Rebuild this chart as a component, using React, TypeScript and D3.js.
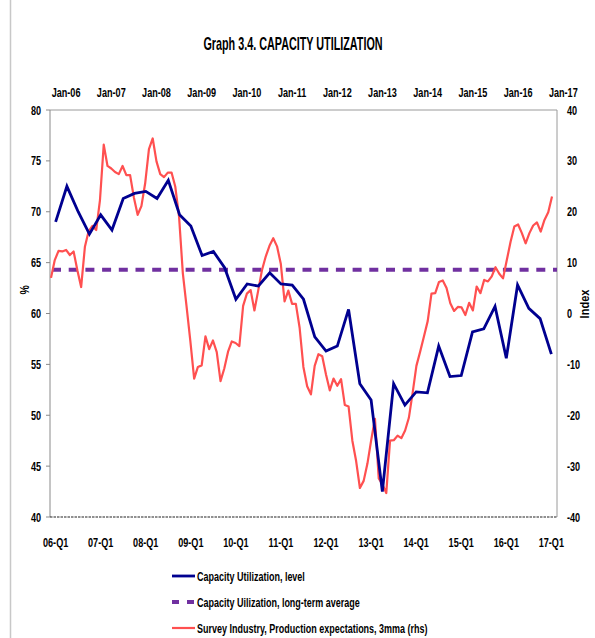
import React from "react";
import * as d3 from "d3";

const W = 595;
const H = 638;

// Quarterly categories 06-Q1 .. 17-Q1
const quarters: string[] = d3
  .range(2006, 2018)
  .flatMap((y) => [1, 2, 3, 4].map((q) => `${String(y % 100).padStart(2, "0")}-Q${q}`))
  .slice(0, 45);

// Monthly categories Sep-05 .. Jan-17 (secondary axis)
const months: string[] = d3
  .timeMonth.range(new Date(2005, 8, 1), new Date(2017, 1, 1))
  .map((d) => d3.timeFormat("%b-%y")(d));

const bottomTickLabels = ["06-Q1", "07-Q1", "08-Q1", "09-Q1", "10-Q1", "11-Q1", "12-Q1", "13-Q1", "14-Q1", "15-Q1", "16-Q1", "17-Q1"];
const topTickLabels = ["Jan-06", "Jan-07", "Jan-08", "Jan-09", "Jan-10", "Jan-11", "Jan-12", "Jan-13", "Jan-14", "Jan-15", "Jan-16", "Jan-17"];
const leftTicks = [40, 45, 50, 55, 60, 65, 70, 75, 80];
const rightTicks = [-40, -30, -20, -10, 0, 10, 20, 30, 40];

// Capacity utilization, level (%), quarterly
const capacityLevel = [
  69.0, 72.5, 70.0, 67.8, 69.7, 68.2, 71.3, 71.8, 72.0, 71.3, 73.1, 69.7,
  68.6, 65.7, 66.1, 64.5, 61.4, 62.9, 62.7, 64.0, 62.9, 62.8, 61.4, 57.7,
  56.3, 56.8, 60.4, 53.1, 51.5, 42.5, 53.1, 51.0, 52.3, 52.2, 56.8, 53.8,
  53.9, 58.2, 58.5, 60.7, 55.6, 62.8, 60.5, 59.5, 56.0,
];

// Long-term average (%)
const longTermAverage = 64.3;

// Survey Industry, production expectations, 3mma (index, rhs), monthly from Sep-05
const productionExpectations = [
  7.0, 10.5, 12.3, 12.2, 12.5, 11.5, 12.2, 8.5, 5.2, 13.1, 16.2, 17.2,
  16.4, 22.3, 33.2, 29.0, 28.5, 27.8, 27.4, 29.0, 27.2, 27.2, 22.8, 19.4,
  21.1, 25.6, 32.3, 34.4, 29.9, 27.4, 26.8, 27.7, 27.7, 24.9, 19.0, 7.9,
  1.3, -5.5, -12.8, -10.5, -10.2, -4.5, -7.0, -5.3, -7.6, -13.3, -10.8, -7.5,
  -5.5, -5.8, -6.4, 1.5, 3.9, 4.6, 0.6, 4.5, 8.5, 11.2, 13.3, 14.8,
  13.2, 9.8, 2.4, 4.5, 1.9, 1.9, -2.8, -10.5, -14.3, -15.9, -10.3, -8.0,
  -8.4, -12.0, -15.1, -12.8, -14.2, -12.9, -18.0, -18.3, -25.0, -29.0, -34.3, -32.9,
  -29.5, -24.9, -20.7, -32.4, -33.6, -35.3, -25.0, -24.9, -24.0, -24.5, -23.0, -20.5,
  -15.6, -10.3, -7.5, -4.5, -1.5, 3.9, 4.0, 6.2, 6.5, 5.0, 2.0, 0.5,
  1.3, 1.2, -0.3, 2.1, 0.6, 5.3, 4.0, 6.6, 6.3, 7.3, 9.1, 7.8,
  6.9, 10.5, 14.1, 17.1, 17.5, 15.8, 13.8, 15.8, 17.3, 17.9, 16.1, 18.4,
  19.9, 23.0,
];

const legendItems = [
  "Capacity Utilization, level",
  "Capacity Uilization, long-term average",
  "Survey Industry, Production expectations, 3mma (rhs)",
];

const BLUE = "#000090";
const PURPLE = "#7030A0";
const RED = "#FF5050";
const FONT = "'Liberation Sans', Arial, sans-serif";

const plot = { left: 50, right: 557, top: 110, bottom: 517 };

type TProps = {
  x: number;
  y: number;
  children: React.ReactNode;
  anchor?: "start" | "middle" | "end";
  size?: number;
  weight?: string | number;
  sx?: number;
  rotate?: number;
  fill?: string;
};

function T({ x, y, children, anchor = "middle", size = 13, weight = "bold", sx = 0.7, rotate = 0, fill = "#000" }: TProps) {
  return (
    <text
      transform={`translate(${x},${y}) rotate(${rotate}) scale(${sx},1)`}
      textAnchor={anchor}
      fontFamily={FONT}
      fontSize={size}
      fontWeight={weight}
      fill={fill}
    >
      {children}
    </text>
  );
}

export default function App() {
  const xQ = d3.scaleBand<string>().domain(quarters).range([plot.left, plot.right]).padding(0);
  const xQc = (q: string) => (xQ(q) as number) + xQ.bandwidth() / 2;
  const xM = d3.scalePoint<string>().domain(months).range([51, 51 + 3.767 * (months.length - 1)]);
  const yL = d3.scaleLinear().domain([40, 80]).range([plot.bottom, plot.top]);
  const yR = d3.scaleLinear().domain([-40, 40]).range([plot.bottom, plot.top]);

  const blueLine = d3
    .line<number>()
    .x((_, i) => xQc(quarters[i]))
    .y((d) => yL(d))(capacityLevel) as string;

  const redLine = d3
    .line<number>()
    .x((_, i) => xM(months[i]) as number)
    .y((d) => yR(d))(productionExpectations) as string;

  const legendX0 = 172;
  const legendX1 = 195;
  const legendY = d3.scalePoint<string>().domain(legendItems).range([576, 628]);

  return (
    <svg
      width={W}
      height={H}
      viewBox={`0 0 ${W} ${H}`}
      style={{ position: "absolute", left: 0, top: 0, background: "#fff" }}
    >
      <rect x={0} y={0} width={W} height={H} fill="#fff" />
      <line x1={10.5} x2={10.5} y1={0} y2={H} stroke="#c8c8c8" strokeWidth={1.5} />

      <T x={293} y={50} size={18} sx={0.6}>
        Graph 3.4. CAPACITY UTILIZATION
      </T>

      {/* plot frame */}
      <line x1={plot.left} x2={plot.right} y1={plot.top} y2={plot.top} stroke="#9a9a9a" strokeWidth={1} />
      <line x1={plot.right} x2={plot.right} y1={plot.top} y2={plot.bottom} stroke="#9a9a9a" strokeWidth={1} />
      <line x1={plot.left} x2={plot.left} y1={plot.top} y2={plot.bottom} stroke="#8a8a8a" strokeWidth={1} />

      {/* left axis ticks */}
      {leftTicks.map((t) => (
        <g key={`l${t}`}>
          <line x1={46} x2={plot.left} y1={yL(t)} y2={yL(t)} stroke="#8a8a8a" />
          <T x={41} y={yL(t) + 4.5} anchor="end">
            {t}
          </T>
        </g>
      ))}
      {/* right axis labels */}
      {rightTicks.map((t) => (
        <T key={`r${t}`} x={567} y={yR(t) + 4.5} anchor="start">
          {t}
        </T>
      ))}

      {/* top axis labels */}
      {topTickLabels.map((lab) => {
        const m = "Jan-" + lab.slice(4);
        return (
          <T key={lab} x={xM(m) as number} y={96.5}>
            {lab}
          </T>
        );
      })}

      {/* bottom axis labels */}
      {bottomTickLabels.map((lab) => (
        <T key={lab} x={xQc(lab)} y={547}>
          {lab}
        </T>
      ))}

      <T x={29} y={290} rotate={-90} size={13} sx={0.8}>
        %
      </T>
      <T x={589} y={304} rotate={-90} size={13} sx={0.85}>
        Index
      </T>

      {/* long-term average */}
      <line
        x1={plot.left + 2}
        x2={plot.right}
        y1={yL(longTermAverage)}
        y2={yL(longTermAverage)}
        stroke={PURPLE}
        strokeWidth={4}
        strokeDasharray="9,7.7"
      />

      {/* survey line */}
      <path d={redLine} fill="none" stroke={RED} strokeWidth={2.2} strokeLinejoin="round" />
      {/* capacity level line */}
      <path d={blueLine} fill="none" stroke={BLUE} strokeWidth={2.8} strokeLinejoin="miter" />

      {/* bottom axis line */}
      <line
        x1={plot.left}
        x2={plot.right}
        y1={plot.bottom}
        y2={plot.bottom}
        stroke="#222"
        strokeWidth={1.2}
        strokeDasharray="2.5,1"
      />

      {/* legend */}
      <line x1={legendX0} x2={legendX1} y1={legendY(legendItems[0])} y2={legendY(legendItems[0])} stroke={BLUE} strokeWidth={2.8} />
      <line
        x1={legendX0}
        x2={legendX1}
        y1={legendY(legendItems[1])}
        y2={legendY(legendItems[1])}
        stroke={PURPLE}
        strokeWidth={4}
        strokeDasharray="7,8"
      />
      <line x1={legendX0} x2={legendX1} y1={legendY(legendItems[2])} y2={legendY(legendItems[2])} stroke={RED} strokeWidth={2.2} />
      {legendItems.map((lab) => (
        <T key={lab} x={legendX1 + 2} y={(legendY(lab) as number) + 4.5} anchor="start" size={12.5} sx={0.72}>
          {lab}
        </T>
      ))}
    </svg>
  );
}
